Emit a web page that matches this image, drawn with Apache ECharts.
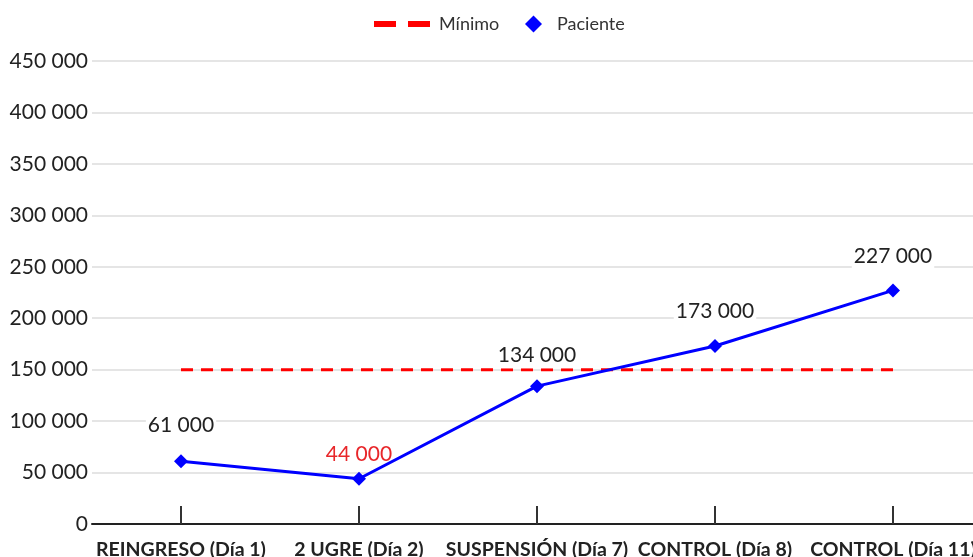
<!DOCTYPE html>
<html><head><meta charset="utf-8">
<script src="https://cdn.jsdelivr.net/npm/echarts@6/dist/echarts.min.js"></script>
<style>html,body{margin:0;padding:0;background:#fff}#c{width:973px;height:557px}</style>
</head><body><div id="c"></div>
<script>
const categories = ['REINGRESO (Día 1)', '2 UGRE (Día 2)', 'SUSPENSIÓN (Día 7)', 'CONTROL (Día 8)', 'CONTROL (Día 11)'];
const minimo = [150000, 150000, 150000, 150000, 150000];
const paciente = [61000, 44000, 134000, 173000, 227000];
const labelColors = ['#222', '#e8262a', '#222', '#222', '#222'];
const labelDistances = [17, 5, 11, 15, 15];
const labelBackgrounds = ['#fff', 'transparent', '#fff', '#fff', '#fff'];
const yMin = 0, yMax = 450000, yStep = 50000;

const fmt = v => String(v).replace(/\B(?=(\d{3})+(?!\d))/g, ' ');
const chart = echarts.init(document.getElementById('c'));
chart.setOption({
  animation: false,
  textStyle: { fontFamily: 'Lato' },
  legend: [
    {
      left: 369, top: 10, itemWidth: 56, itemHeight: 6,
      textStyle: { fontSize: 18, color: '#333', fontFamily: 'Lato', padding: [0, 0, 0, 4] },
      data: [{ name: 'Mínimo', icon: 'path://M0,0 L22,0 L22,6 L0,6 Z M34,0 L56,0 L56,6 L34,6 Z', itemStyle: { color: '#f00' } }]
    },
    {
      left: 520, top: 10, itemWidth: 17, itemHeight: 17,
      textStyle: { fontSize: 18, color: '#333', fontFamily: 'Lato', padding: [0, 0, 0, 10] },
      data: [{ name: 'Paciente', icon: 'diamond' }]
    }
  ],
  grid: [
    { left: 92, right: 0, top: 61, bottom: 33, outerBoundsMode: 'none', containLabel: false },
    { left: 181, right: 80, top: 61, bottom: 33, outerBoundsMode: 'none', containLabel: false }
  ],
  xAxis: [
    {
      gridIndex: 0, type: 'category', data: categories,
      axisLine: { lineStyle: { color: '#222', width: 2 } },
      axisTick: { show: false }, axisLabel: { show: false }
    },
    {
      gridIndex: 1, type: 'category', data: categories, boundaryGap: false,
      axisLine: { show: false },
      axisTick: { show: true, inside: true, length: 18, lineStyle: { color: '#333', width: 2 } },
      axisLabel: { fontSize: 19.5, fontWeight: 'bold', color: '#222', margin: 16, fontFamily: 'Lato', interval: 0 }
    }
  ],
  yAxis: [
    {
      gridIndex: 0, type: 'value', min: yMin, max: yMax, interval: yStep,
      axisLine: { show: false }, axisTick: { show: false },
      splitLine: { lineStyle: { color: '#ddd', width: 1.5 } },
      axisLabel: { fontSize: 21, color: '#222', margin: 4, formatter: fmt, fontFamily: 'Lato' }
    },
    {
      gridIndex: 1, type: 'value', min: yMin, max: yMax, interval: yStep,
      axisLine: { show: false }, axisTick: { show: false },
      splitLine: { show: false }, axisLabel: { show: false }
    }
  ],
  series: [
    {
      name: 'Mínimo', type: 'line', xAxisIndex: 1, yAxisIndex: 1, data: minimo, symbol: 'none',
      itemStyle: { color: '#f00' },
      lineStyle: { color: '#f00', width: 3, type: [12, 8] }
    },
    {
      name: 'Paciente', type: 'line', xAxisIndex: 1, yAxisIndex: 1,
      data: paciente.map((v, i) => ({
        value: v,
        label: { color: labelColors[i], distance: labelDistances[i], backgroundColor: labelBackgrounds[i] }
      })),
      symbol: 'diamond', symbolSize: 14,
      itemStyle: { color: '#0000ff' },
      lineStyle: { color: '#0000ff', width: 3 },
      label: {
        show: true, position: 'top', fontSize: 21, formatter: p => fmt(p.value),
        padding: [2, 2], fontFamily: 'Lato'
      },
      z: 3
    }
  ]
});
</script></body></html>
